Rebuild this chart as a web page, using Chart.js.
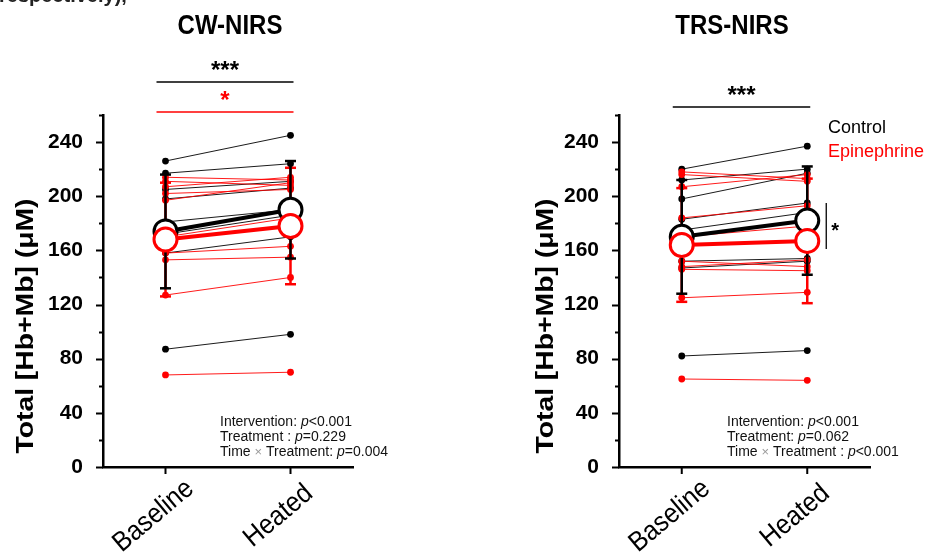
<!DOCTYPE html>
<html>
<head>
<meta charset="utf-8">
<script src="https://cdn.jsdelivr.net/npm/chart.js@4.4.1/dist/chart.umd.min.js"></script>
<style>
  html, body { margin: 0; padding: 0; background: #fff; }
  #wrap { position: relative; width: 931px; height: 556px; overflow: hidden; }
  canvas { position: absolute; top: 0; }
</style>
</head>
<body>
<div id="wrap">
  <canvas id="cwChart" width="465" height="556" style="left:0"></canvas>
  <canvas id="trsChart" width="466" height="556" style="left:465px"></canvas>
</div>
<script>
const timepoints = ['Baseline', 'Heated'];
const yTickValues = [0, 40, 80, 120, 160, 200, 240];
const yMinorStep = 20;
const yMax = 260;

// each subject: [baseline, heated]
const cwControl = [[226, 245], [217, 224], [205, 211], [198, 206], [181, 190], [172, 186], [158, 170], [87, 98]];
const cwEpinephrine = [[214, 212], [211, 208], [207, 214], [202, 205], [197, 210], [170, 184], [158, 163], [153, 155], [127, 140], [68, 70]];
const cwMeanControl = [174, 190];
const cwSdControl = [42, 36];
const cwMeanEpinephrine = [168, 178];
const cwSdEpinephrine = [42, 43];

const trsControl = [[220, 237], [212, 220], [198, 217], [183, 195], [175, 188], [152, 154], [147, 152], [82, 86]];
const trsEpinephrine = [[218, 213], [216, 211], [207, 216], [184, 193], [170, 178], [152, 148], [148, 153], [146, 145], [125, 129], [65, 64]];
const trsMeanControl = [170, 182];
const trsSdControl = [42, 40];
const trsMeanEpinephrine = [164, 167];
const trsSdEpinephrine = [42, 46];

const cwStats = [['Intervention: ', '<0.001'], ['Treatment : ', '=0.229'], ['Time \u00d7 Treatment: ', '=0.004']];
const trsStats = [['Intervention: ', '<0.001'], ['Treatment: ', '=0.062'], ['Time \u00d7 Treatment : ', '<0.001']];

const FONT = '"Liberation Sans", Arial, sans-serif';
const BLACK = '#000000';
const RED = '#ff0000';

function subjectSet(s, col, order) {
  return {
    data: s.map((v, i) => ({x: i + 1, y: v})),
    showLine: true,
    borderColor: col,
    borderWidth: 0.9,
    pointRadius: 3.4,
    pointBackgroundColor: col,
    pointBorderColor: col,
    pointBorderWidth: 0,
    order: order
  };
}

function errorSets(mean, sd, col) {
  return mean.map((m, i) => ({
    data: [{x: i + 1, y: m - sd[i]}, {x: i + 1, y: m + sd[i]}],
    showLine: true,
    borderColor: col,
    borderWidth: 2.5,
    pointStyle: 'line',
    pointRadius: 5.5,
    pointBorderColor: col,
    pointBorderWidth: 2.5,
    order: 40
  }));
}

function buildDatasets(control, epi, meanC, sdC, meanE, sdE) {
  let sets = [];
  control.forEach(s => sets.push(subjectSet(s, BLACK, 60)));
  epi.forEach(s => sets.push(subjectSet(s, RED, 50)));
  sets = sets.concat(errorSets(meanC, sdC, BLACK), errorSets(meanE, sdE, RED));
  [[meanC, BLACK, 30], [meanE, RED, 25]].forEach(([m, col, ord]) => {
    sets.push({
      data: m.map((v, i) => ({x: i + 1, y: v})),
      showLine: true, borderColor: col, borderWidth: 4, pointRadius: 0, order: ord
    });
  });
  [[meanC, BLACK, 20], [meanE, RED, 10]].forEach(([m, col, ord]) => {
    sets.push({
      data: m.map((v, i) => ({x: i + 1, y: v})),
      showLine: false, pointRadius: 11.5, pointBorderWidth: 3,
      pointBackgroundColor: '#ffffff', pointBorderColor: col, order: ord
    });
  });
  return sets;
}

function drawStretched(ctx, text, x, y, font, color, sy, align) {
  ctx.save();
  ctx.translate(x, y);
  ctx.scale(1, sy);
  ctx.font = font;
  ctx.fillStyle = color;
  ctx.textAlign = align || 'center';
  ctx.textBaseline = 'middle';
  ctx.fillText(text, 0, 0);
  ctx.restore();
}

const panelDecor = {
  id: 'panelDecor',
  afterDraw(chart, args, o) {
    const ctx = chart.ctx;
    const xs = chart.scales.x, ys = chart.scales.y;
    ctx.save();
    ctx.strokeStyle = BLACK;
    ctx.lineWidth = 2;
    // y tick marks, long on labelled values
    for (let v = 0; v <= yMax; v += yMinorStep) {
      const py = Math.round(ys.getPixelForValue(v)) + 0.5;
      const len = yTickValues.includes(v) ? 7 : 4;
      ctx.beginPath();
      ctx.moveTo(xs.left - len, py);
      ctx.lineTo(xs.left, py);
      ctx.stroke();
    }
    // x tick marks and rotated labels
    timepoints.forEach((lab, i) => {
      const px = xs.getPixelForValue(i + 1);
      ctx.beginPath();
      ctx.moveTo(px, ys.bottom);
      ctx.lineTo(px, ys.bottom + 7);
      ctx.stroke();
      ctx.save();
      ctx.translate(px - 12, ys.bottom + 49);
      ctx.rotate(-40 * Math.PI / 180);
      ctx.scale(1, 1.1);
      ctx.font = '25px ' + FONT;
      ctx.fillStyle = BLACK;
      ctx.textAlign = 'center';
      ctx.textBaseline = 'middle';
      ctx.fillText(lab, 0, 0);
      ctx.restore();
    });
    // panel title
    drawStretched(ctx, o.title, o.titleX, 26, 'bold 24px ' + FONT, BLACK, 1.15);
    // y axis title
    ctx.save();
    ctx.translate(o.yTitleX, 326);
    ctx.rotate(-Math.PI / 2);
    ctx.scale(1.18, 1);
    ctx.font = 'bold 24px ' + FONT;
    ctx.fillStyle = BLACK;
    ctx.textAlign = 'center';
    ctx.textBaseline = 'middle';
    ctx.fillText('Total [Hb+Mb] (\u03bcM)', 0, 0);
    ctx.restore();
    // significance bars
    o.sig.forEach(s => {
      const x1 = xs.getPixelForValue(1) - 9, x2 = xs.getPixelForValue(2) + 3;
      ctx.strokeStyle = s.color;
      ctx.lineWidth = 1.5;
      ctx.beginPath();
      ctx.moveTo(x1, s.lineY);
      ctx.lineTo(x2, s.lineY);
      ctx.stroke();
      ctx.font = 'bold 24px ' + FONT;
      ctx.fillStyle = s.color;
      ctx.textAlign = 'center';
      ctx.textBaseline = 'alphabetic';
      ctx.fillText(s.text, (x1 + x2) / 2, s.lineY - 4);
    });
    // statistics text
    o.stats.forEach((line, k) => {
      const y = 422 + k * 15;
      let x = o.statsX;
      ctx.textAlign = 'left';
      ctx.textBaseline = 'middle';
      const parts = line[0].split('\u00d7');
      parts.forEach((p, j) => {
        ctx.font = '14px ' + FONT;
        ctx.fillStyle = '#111';
        ctx.fillText(p, x, y);
        x += ctx.measureText(p).width;
        if (j < parts.length - 1) {
          ctx.font = '13px ' + FONT;
          ctx.fillStyle = '#999';
          ctx.fillText('\u00d7', x, y);
          x += ctx.measureText('\u00d7').width;
        }
      });
      ctx.font = 'italic 14px ' + FONT;
      ctx.fillStyle = '#111';
      ctx.fillText('p', x, y);
      x += ctx.measureText('p').width;
      ctx.font = '14px ' + FONT;
      ctx.fillText(line[1], x, y);
    });
    if (o.legend) {
      ctx.font = '18px ' + FONT;
      ctx.textAlign = 'left';
      ctx.textBaseline = 'middle';
      ctx.fillStyle = BLACK;
      ctx.fillText('Control', o.legend.x, o.legend.y);
      ctx.fillStyle = RED;
      ctx.fillText('Epinephrine', o.legend.x, o.legend.y + 24);
    }
    if (o.bracket) {
      const top = ys.getPixelForValue(o.bracket[1]), bot = ys.getPixelForValue(o.bracket[0]);
      const bx = xs.getPixelForValue(2) + 19;
      ctx.strokeStyle = BLACK;
      ctx.lineWidth = 1.3;
      ctx.beginPath();
      ctx.moveTo(bx, top);
      ctx.lineTo(bx, bot);
      ctx.stroke();
      ctx.font = 'bold 20px ' + FONT;
      ctx.fillStyle = BLACK;
      ctx.textAlign = 'left';
      ctx.textBaseline = 'middle';
      ctx.fillText('*', bx + 5, (top + bot) / 2 + 5);
    }
    if (o.topText) {
      ctx.font = 'bold 20px ' + FONT;
      ctx.fillStyle = '#222';
      ctx.textAlign = 'left';
      ctx.textBaseline = 'alphabetic';
      ctx.fillText('respectively),', -1, 2);
    }
    ctx.restore();
  }
};

function makePanel(id, datasets, padding, deco) {
  const ctx = document.getElementById(id).getContext('2d');
  return new Chart(ctx, {
    type: 'scatter',
    data: {datasets: datasets},
    plugins: [panelDecor],
    options: {
      responsive: false,
      animation: false,
      devicePixelRatio: 1,
      events: [],
      layout: {padding: padding},
      plugins: {
        legend: {display: false},
        tooltip: {enabled: false},
        panelDecor: deco
      },
      scales: {
        x: {
          type: 'linear', min: 0.5, max: 2.5,
          afterBuildTicks: s => { s.ticks = timepoints.map((t, i) => ({value: i + 1})); },
          ticks: {display: false},
          grid: {display: false},
          border: {display: true, color: BLACK, width: 2.5},
          afterFit: s => { s.height = 0; }
        },
        y: {
          type: 'linear', min: 0, max: yMax,
          afterBuildTicks: s => { s.ticks = yTickValues.map(v => ({value: v})); },
          ticks: {color: BLACK, padding: 12, font: {family: FONT, size: 21, weight: 'bold'}},
          grid: {display: false},
          border: {display: true, color: BLACK, width: 2.5},
          afterFit: s => { s.width = 60; }
        }
      }
    }
  });
}

makePanel('cwChart',
  buildDatasets(cwControl, cwEpinephrine, cwMeanControl, cwSdControl, cwMeanEpinephrine, cwSdEpinephrine),
  {left: 43, right: 112, top: 115, bottom: 89},
  {
    title: 'CW-NIRS', titleX: 230, yTitleX: 26, statsX: 220, stats: cwStats, topText: true,
    sig: [{text: '***', color: BLACK, lineY: 82}, {text: '*', color: RED, lineY: 112}]
  });

makePanel('trsChart',
  buildDatasets(trsControl, trsEpinephrine, trsMeanControl, trsSdControl, trsMeanEpinephrine, trsSdEpinephrine),
  {left: 94, right: 61, top: 115, bottom: 89},
  {
    title: 'TRS-NIRS', titleX: 267, yTitleX: 81, statsX: 262, stats: trsStats,
    sig: [{text: '***', color: BLACK, lineY: 107}],
    legend: {x: 363, y: 128},
    bracket: [161, 195]
  });
</script>
</body>
</html>
